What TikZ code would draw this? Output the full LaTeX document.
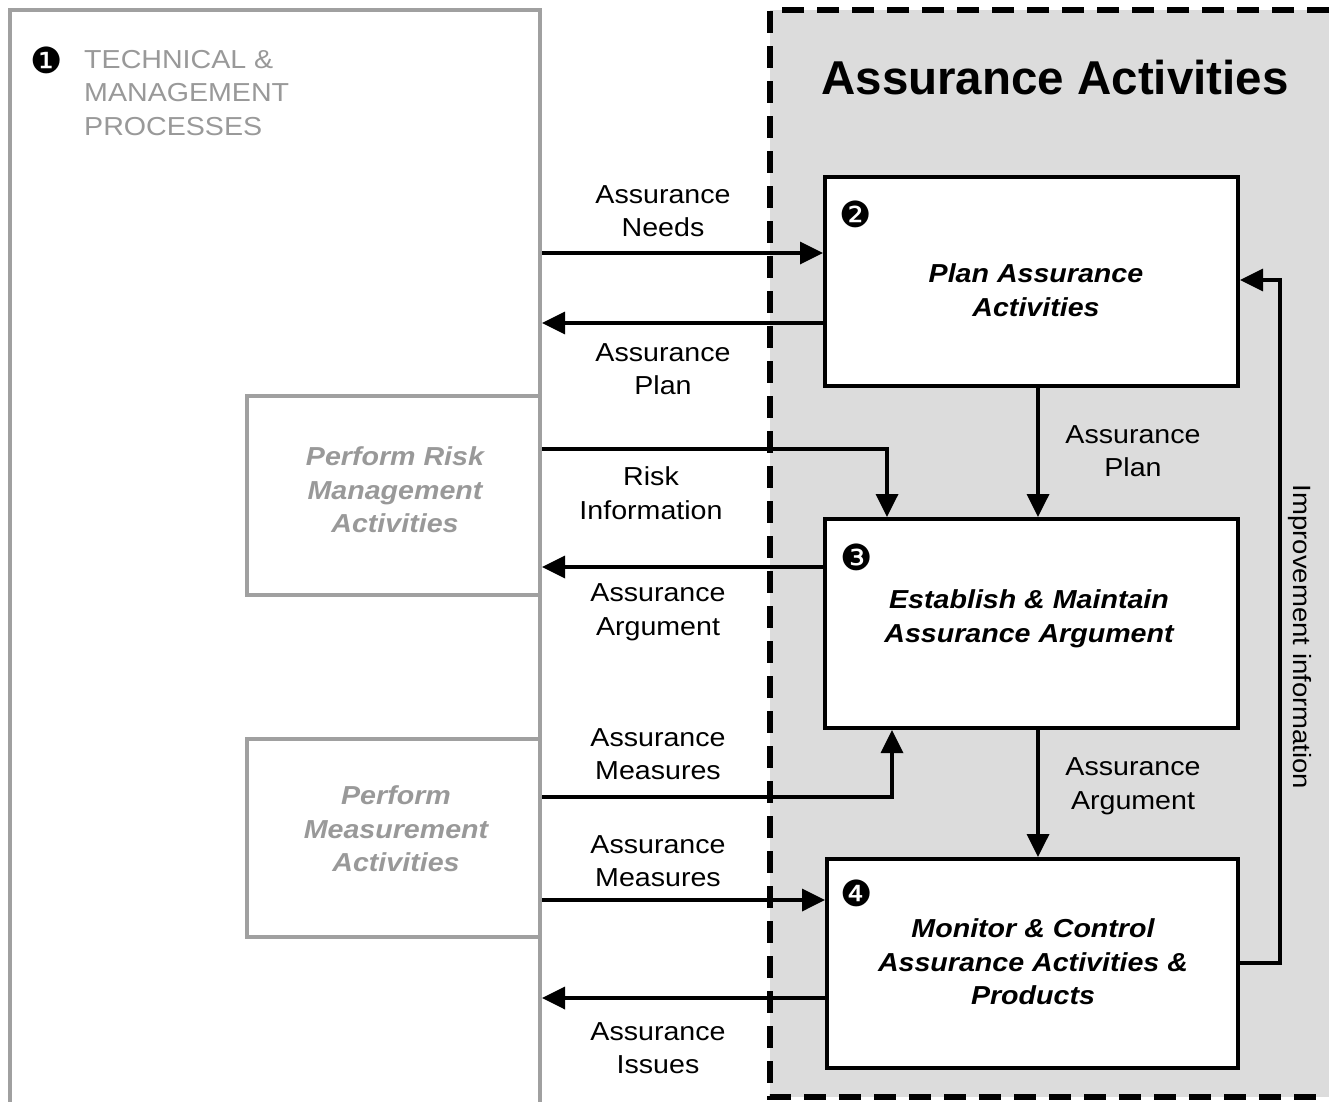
\documentclass[tikz,border=0pt]{standalone}
\usepackage{fontspec}
\setmainfont{Liberation Sans}[FakeStretch=1.1]
\newfontfamily\titlefont{Liberation Sans}
\newfontfamily\numfont{DejaVu Sans}
\usetikzlibrary{arrows.meta}
\definecolor{regiongray}{HTML}{DCDCDC}
\definecolor{procgray}{HTML}{A0A0A0}
\definecolor{proctext}{HTML}{999999}
\begin{document}
\begin{tikzpicture}[x=1pt,y=-1pt,
  actbox/.style={draw=black, line width=4pt, fill=white, minimum width=413pt, minimum height=209pt, inner sep=0pt},
  procbox/.style={draw=procgray, line width=4pt, fill=white, inner sep=0pt},
  arr/.style={line width=3.5pt, -{Triangle[length=23pt,width=22pt]}},
  lbl/.style={align=center, inner sep=0pt, font=\fontsize{26}{33.5}\selectfont},
  acttxt/.style={align=center, inner sep=0pt, font=\fontsize{26}{33.5}\selectfont\bfseries\itshape},
  proctxt/.style={align=center, inner sep=0pt, text=proctext, font=\fontsize{26}{33.5}\selectfont\bfseries\itshape},
  numlbl/.style={inner sep=0pt, font=\numfont\fontsize{36}{36}\selectfont},
  regionborder/.style={line width=5.5pt, dash pattern=on 22pt off 13pt}
]
\useasboundingbox (0,0) rectangle (1329,1101);
\begin{scope}
\clip (0,0) rectangle (1329,1101);
\fill[white] (0,0) rectangle (1329,1101);

% assurance region
\fill[regiongray] (770,10) rectangle (1329,1097);

% technical & management processes
\node[procbox, minimum width=530pt, minimum height=1110pt] (tech) at (275,565) {};
\end{scope}
\node[procbox, minimum width=293pt, minimum height=199pt] (risk) at (393.5,495.5) {};
\node[procbox, minimum width=293pt, minimum height=198pt] (meas) at (393.5,838) {};

\node[numlbl] (n1) at (47,60) {❶};
\node[lbl, align=left, anchor=west, text=proctext] (techtxt) at (84,93) {TECHNICAL \&\\MANAGEMENT\\PROCESSES};
\node[proctxt] (risktxt) at (395,490) {Perform Risk\\Management\\Activities};
\node[proctxt] (meastxt) at (396,829) {Perform\\Measurement\\Activities};

% activity boxes
\node[actbox] (plan) at (1031.5,281.5) {};
\node[actbox] (estab) at (1031.5,623.5) {};
\node[actbox, minimum width=411pt] (mon) at (1032.5,963.5) {};

\node[numlbl] (n2) at (856,214) {❷};
\node[numlbl] (n3) at (857,557) {❸};
\node[numlbl] (n4) at (857,893) {❹};

\node[acttxt] (plantxt) at (1036,290) {Plan Assurance\\Activities};
\node[acttxt] (estabtxt) at (1029,619) {Establish \& Maintain\\Assurance Argument};
\node[acttxt] (montxt) at (1033,962) {Monitor \& Control\\Assurance Activities \&\\Products};

\node[inner sep=0pt, font=\titlefont\fontsize{47.5}{50}\selectfont\bfseries] (title) at (1055,78) {Assurance Activities};

% connectors
\draw[arr] (tech.east |- 0,253) -- (plan.west |- 0,253);
\draw[arr] (plan.west |- 0,323) -- (tech.east |- 0,323);
\draw[arr] (risk.east |- 0,449) -- (887,449) -- (estab.north -| 887,0);
\draw[arr] (estab.west |- 0,567) -- (tech.east |- 0,567);
\draw[arr] (meas.east |- 0,797) -- (892,797) -- (estab.south -| 892,0);
\draw[arr] (meas.east |- 0,900) -- (mon.west |- 0,900);
\draw[arr] (mon.west |- 0,998) -- (tech.east |- 0,998);
\draw[arr] (plan.south -| 1038,0) -- (estab.north -| 1038,0);
\draw[arr] (estab.south -| 1038,0) -- (mon.north -| 1038,0);
\draw[arr] (mon.east |- 0,963) -- (1280,963) -- (1280,280) -- (plan.east |- 0,280);

% dashed region border
\draw[regionborder] (1329,10) -- (770,10) -- (770,1097) -- (1329,1097);

% connector labels
\node[lbl] (l1) at (663,211) {Assurance\\Needs};
\node[lbl] (l2) at (663,369) {Assurance\\Plan};
\node[lbl] (l3) at (651,493) {Risk\\Information};
\node[lbl] (l4) at (658,612) {Assurance\\Argument};
\node[lbl] (l5) at (658,754) {Assurance\\Measures};
\node[lbl] (l6) at (658,861) {Assurance\\Measures};
\node[lbl] (l7) at (658,1048) {Assurance\\Issues};
\node[lbl] (l8) at (1133,451) {Assurance\\Plan};
\node[lbl] (l9) at (1133,786) {Assurance\\Argument};
\node[inner sep=0pt, rotate=-90, font=\fontsize{25}{30}\selectfont] (l10) at (1300,637) {Improvement information};
\end{tikzpicture}
\end{document}
